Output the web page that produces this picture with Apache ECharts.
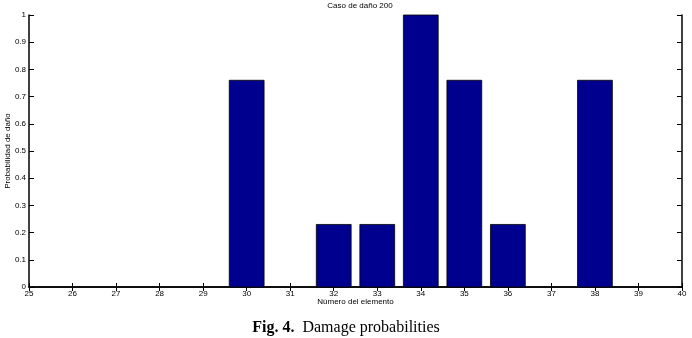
<!DOCTYPE html>
<html>
<head>
<meta charset="utf-8">
<script src="https://cdn.jsdelivr.net/npm/echarts@6/dist/echarts.min.js"></script>
<style>
    html, body { margin: 0; padding: 0; background: #fff; }
    #chart { width: 692px; height: 338px; }
</style>
</head>
<body>
<div id="chart"></div>
<script>
    // elementos y probabilidades de daño
    var elementos = [30, 32, 33, 34, 35, 36, 38];
    var probabilidad = [0.76, 0.23, 0.23, 1.0, 0.76, 0.23, 0.76];
    var xMin = 25, xMax = 40;
    var yMin = 0, yMax = 1;
    var anchoBarra = 0.8;

    var data = [];
    for (var i = 0; i < elementos.length; i++) {
        data.push([elementos[i], probabilidad[i]]);
    }

    var chart = echarts.init(document.getElementById('chart'));
    var fuente = 'Liberation Sans';
    var eje = {
        lineStyle: { color: '#000', width: 1.5 }
    };
    var option = {
        backgroundColor: '#fff',
        animation: false,
        title: {
            text: 'Caso de daño 200',
            left: 355, top: -3, textAlign: 'center',
            textStyle: { fontFamily: fuente, fontSize: 8, fontWeight: 'normal', color: '#000' }
        },
        grid: { left: 29, right: 10, top: 15, bottom: 51, outerBoundsMode: 'none', containLabel: false },
        xAxis: [{
            type: 'value', min: xMin, max: xMax, interval: 1,
            name: 'Número del elemento', nameLocation: 'middle', nameGap: 11, nameMoveOverlap: false,
            nameTextStyle: { fontFamily: fuente, fontSize: 8, color: '#000' },
            axisLine: eje,
            axisTick: { inside: true, length: 4, lineStyle: { color: '#000' } },
            axisLabel: { fontFamily: fuente, fontSize: 8, color: '#000', margin: 3 },
            splitLine: { show: false }
        }, {
            type: 'value', min: xMin, max: xMax, interval: 1, position: 'top',
            axisLine: eje,
            axisTick: { inside: true, length: 4, lineStyle: { color: '#000' } },
            axisLabel: { show: false },
            splitLine: { show: false }
        }],
        yAxis: [{
            type: 'value', min: yMin, max: yMax, interval: 0.1,
            name: 'Probabilidad de daño', nameLocation: 'middle', nameGap: 17, nameMoveOverlap: false,
            nameTextStyle: { fontFamily: fuente, fontSize: 8, color: '#000' },
            axisLine: eje,
            axisTick: { inside: true, length: 5, lineStyle: { color: '#000' } },
            axisLabel: { fontFamily: fuente, fontSize: 8, color: '#000', margin: 3,
                formatter: function (v) { return +v.toFixed(1) + ''; } },
            splitLine: { show: false }
        }, {
            type: 'value', min: yMin, max: yMax, interval: 0.1, position: 'right',
            axisLine: eje,
            axisTick: { inside: true, length: 5, lineStyle: { color: '#000' } },
            axisLabel: { show: false },
            splitLine: { show: false }
        }],
        series: [{
            type: 'custom',
            data: data,
            encode: { x: 0, y: 1 },
            renderItem: function (params, api) {
                var x = api.value(0), y = api.value(1);
                var p1 = api.coord([x - anchoBarra / 2, y]);
                var p2 = api.coord([x + anchoBarra / 2, 0]);
                return {
                    type: 'rect',
                    shape: { x: p1[0], y: p1[1], width: p2[0] - p1[0], height: p2[1] - p1[1] },
                    style: { fill: '#00008f', stroke: '#000', lineWidth: 0.8 }
                };
            }
        }],
        graphic: [{
            type: 'text', left: 'center', top: 320,
            style: {
                text: '{b|Fig. 4.}  Damage probabilities',
                font: '16px "Liberation Serif"',
                fill: '#000',
                rich: { b: { fontFamily: 'Liberation Serif', fontSize: 16, fontWeight: 'bold' } }
            }
        }]
    };
    chart.setOption(option);
</script>
</body>
</html>
